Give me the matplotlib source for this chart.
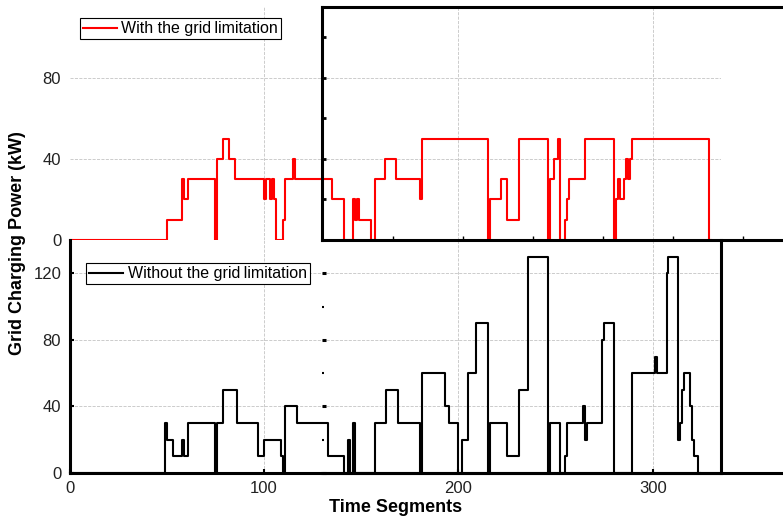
import numpy as np
import matplotlib.pyplot as plt

plt.rcParams['font.family'] = ['Liberation Sans', 'DejaVu Sans']

# step series: segment index where a new charging level starts, level in kW
with_t = [0, 50, 58, 59, 61, 75, 76, 79, 82, 85, 100, 101, 103, 104, 105, 106,
          110, 111, 115, 116, 135, 141, 146, 147, 148, 149, 155, 157, 162, 168,
          180, 181, 215, 216, 222, 225, 231, 246, 247, 249, 251, 252, 255, 256,
          257, 265, 280, 281, 282, 283, 285, 286, 287, 288, 289, 329, 330]
with_v = [0, 10, 30, 20, 30, 0, 40, 50, 40, 30, 20, 30, 20, 30, 20, 0,
          10, 30, 40, 30, 20, 0, 20, 10, 20, 10, 0, 30, 40, 30,
          20, 50, 0, 20, 30, 10, 50, 0, 30, 40, 50, 0, 10, 20,
          30, 50, 0, 20, 30, 20, 30, 40, 30, 40, 50, 0, 0]

without_t = [0, 49, 50, 53, 58, 59, 61, 75, 76, 79, 86, 97, 100, 109, 110, 111,
             117, 133, 141, 143, 144, 146, 147, 157, 163, 169, 180, 181, 193,
             195, 200, 202, 205, 209, 215, 216, 225, 231, 236, 246, 247, 252,
             255, 256, 264, 265, 266, 274, 275, 280, 289, 301, 302, 307, 308,
             313, 314, 315, 316, 319, 320, 321, 323, 324]
without_v = [0, 30, 20, 10, 20, 10, 30, 0, 30, 50, 30, 10, 20, 10, 0, 40,
             30, 10, 0, 20, 0, 30, 0, 30, 50, 30, 0, 60, 40,
             30, 0, 20, 60, 90, 0, 30, 10, 50, 130, 0, 30, 0,
             10, 30, 40, 20, 30, 80, 90, 0, 60, 70, 60, 120, 130,
             20, 30, 50, 60, 40, 20, 10, 0, 0]

x_ticks = [0, 100, 200, 300]
top_yticks = [0, 40, 80]
bot_yticks = [0, 40, 80, 120]

W, H = 783, 522
XMAX = 335


def fx(px):
    return px / W


def fy(py):
    return 1 - py / H


fig = plt.figure(figsize=(W / 100, H / 100), dpi=100)

left, right = 69.5, 721
ax_top = fig.add_axes([fx(left), fy(240), fx(right) - fx(left), fy(7) - fy(240)])
ax_bot = fig.add_axes([fx(left), fy(473), fx(right) - fx(left), fy(240) - fy(473)])

grid_kw = dict(color='#c4c4c4', linestyle='--', linewidth=0.6)

# upper panel: with the grid limitation
ax_top.step(with_t, with_v, where='post', color='#ff0000', lw=1.5,
            clip_on=False, zorder=3, label='With the grid\u2009limitation')
ax_top.set_xlim(0, XMAX)
ax_top.set_ylim(0, 115)
ax_top.set_xticks(x_ticks[1:])
ax_top.set_yticks(top_yticks)
ax_top.tick_params(axis='x', length=0, labelbottom=False)
ax_top.tick_params(axis='y', length=0, pad=6, labelsize=12, colors='#222222')
for s in ax_top.spines.values():
    s.set_visible(False)
ax_top.grid(True, **grid_kw)
ax_top.set_axisbelow(True)
ax_top.legend(loc='upper left', bbox_to_anchor=(0.016, 0.953), borderaxespad=0,
              fontsize=11.5, handlelength=2.1, handletextpad=0.3, borderpad=0.2,
              fancybox=False, framealpha=1, edgecolor='black').get_frame().set_linewidth(0.8)

# lower panel: without the grid limitation
ax_bot.step(without_t, without_v, where='post', color='black', lw=1.5,
            clip_on=False, zorder=3, label='Without the grid\u2009limitation')
ax_bot.set_xlim(0, XMAX)
ax_bot.set_ylim(0, 140)
ax_bot.set_xticks(x_ticks)
ax_bot.set_yticks(bot_yticks)
ax_bot.tick_params(direction='in', length=3, width=1.5, labelsize=12,
                   colors='black', labelcolor='#222222', pad=6)
ax_bot.spines['top'].set_visible(False)
for side in ('left', 'right', 'bottom'):
    ax_bot.spines[side].set_linewidth(2.2)
ax_bot.grid(True, **grid_kw)
ax_bot.set_axisbelow(True)
ax_bot.legend(loc='upper left', bbox_to_anchor=(0.0253, 0.901), borderaxespad=0,
              fontsize=11.5, handlelength=2.1, handletextpad=0.3, borderpad=0.2,
              fancybox=False, framealpha=1, edgecolor='black').get_frame().set_linewidth(0.8)

# offset frame over the right part of the upper panel
fr_top = fig.add_axes([fx(322), fy(240), 0.7, fy(7) - fy(240)])
fr_top.patch.set_visible(False)
fr_top.set_ylim(0, 115)
fr_top.set_xlim(0, 0.7 * W)
fr_top.set_xticks(np.arange(71, 0.7 * W, 70))
fr_top.set_yticks(np.arange(0, 101, 20))
fr_top.tick_params(direction='in', length=3, width=2, labelbottom=False, labelleft=False)
fr_top.tick_params(axis='x', width=1)
for s in fr_top.spines.values():
    s.set_linewidth(2.2)

# offset frame under it: only tick dots and the base line
fr_bot = fig.add_axes([fx(322), fy(473), 0.7, fy(240) - fy(473)])
fr_bot.patch.set_visible(False)
fr_bot.set_ylim(0, 140)
fr_bot.set_xticks([])
fr_bot.set_yticks(np.arange(0, 121, 40))
fr_bot.set_yticks(np.arange(20, 121, 40), minor=True)
fr_bot.tick_params(axis='y', which='major', direction='in', length=3, width=2.2,
                   labelleft=False)
fr_bot.tick_params(axis='y', which='minor', direction='in', length=1.5, width=1.5)
for side in ('left', 'top', 'right'):
    fr_bot.spines[side].set_visible(False)
fr_bot.spines['bottom'].set_linewidth(2.2)

fig.text(fx(396), fy(508), 'Time Segments', ha='center', va='center',
         fontsize=13, fontweight='bold')
fig.text(fx(18), fy(243), 'Grid Charging Power (kW)', ha='center', va='center',
         rotation=90, fontsize=13, fontweight='bold')

fig.savefig('out.png', dpi=100)
